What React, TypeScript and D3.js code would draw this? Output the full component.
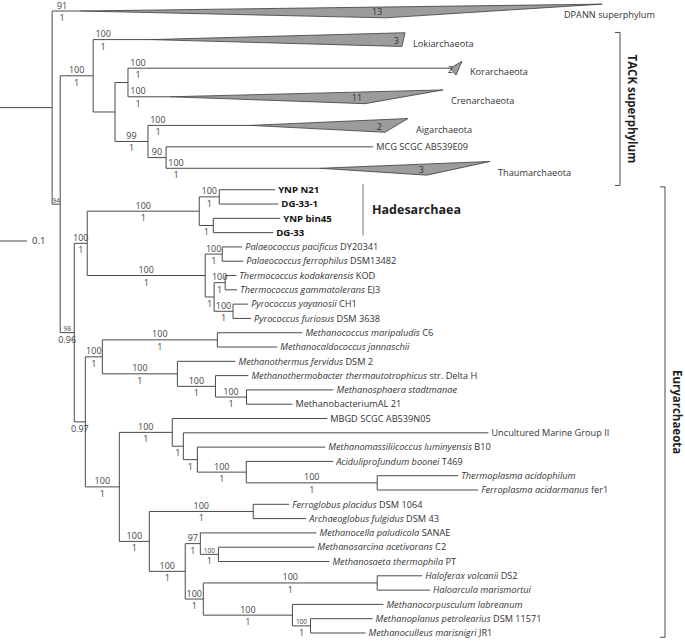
import React from 'react';
import * as d3 from 'd3';

const W = 685;
const H = 641;

// ---------------- DATA ----------------
// Tree topology: [node id, parent id, branch length (substitutions per site)]
const branches: [string, string, number][] = [
  ['r0', '', 0],
  ['root', 'r0', 0.193],
  ['dpann', 'root', 0.104],
  ['n94', 'root', 0.03],
  ['tack', 'n94', 0.122],
  ['loki', 'tack', 0.211],
  ['n115', 'tack', 0.081],
  ['n128', 'n115', 0.048],
  ['kor', 'n128', 1.193],
  ['cren', 'n128', 0.156],
  ['n148', 'n115', 0.122],
  ['aig', 'n148', 0.378],
  ['n166', 'n148', 0.067],
  ['mcg', 'n166', 0.767],
  ['thaum', 'n166', 0.57],
  ['n74', 'n94', 0.052],
  ['n87', 'n74', 0.048],
  ['hades', 'n87', 0.415],
  ['hA', 'hades', 0.074],
  ['ynpn21', 'hA', 0.207],
  ['dg331', 'hA', 0.219],
  ['hB', 'hades', 0.052],
  ['ynpbin45', 'hB', 0.248],
  ['dg33', 'hB', 0.222],
  ['thermo', 'n87', 0.437],
  ['palaeo', 'thermo', 0.063],
  ['ppac', 'palaeo', 0.074],
  ['pfer', 'palaeo', 0.078],
  ['tX', 'thermo', 0.033],
  ['tcoc', 'tX', 0.041],
  ['tkod', 'tcoc', 0.041],
  ['tgam', 'tcoc', 0.044],
  ['pyro', 'tX', 0.07],
  ['pyay', 'pyro', 0.056],
  ['pfur', 'pyro', 0.067],
  ['n85', 'n74', 0.041],
  ['nM', 'n85', 0.063],
  ['nMc', 'nM', 0.426],
  ['mmar', 'nMc', 0.315],
  ['mjan', 'nMc', 0.222],
  ['nMb', 'nM', 0.278],
  ['mfer', 'nMb', 0.215],
  ['n215', 'nMb', 0.141],
  ['mthb', 'n215', 0.122],
  ['n246', 'n215', 0.115],
  ['msta', 'n246', 0.322],
  ['mbal', 'n246', 0.17],
  ['n119', 'n85', 0.126],
  ['n172', 'n119', 0.196],
  ['mbgd', 'n172', 0.574],
  ['n183', 'n172', 0.041],
  ['umg', 'n183', 1.13],
  ['n197', 'n183', 0.052],
  ['mmas', 'n197', 0.474],
  ['n246b', 'n197', 0.181],
  ['acid', 'n246b', 0.322],
  ['n377', 'n246b', 0.485],
  ['tacid', 'n377', 0.3],
  ['facid', 'n377', 0.374],
  ['n149', 'n119', 0.111],
  ['n253', 'n149', 0.385],
  ['fpla', 'n253', 0.133],
  ['aful', 'n253', 0.196],
  ['n185', 'n149', 0.133],
  ['n200', 'n185', 0.056],
  ['mpal', 'n200', 0.43],
  ['n218', 'n200', 0.067],
  ['mace', 'n218', 0.356],
  ['mthe', 'n218', 0.411],
  ['n203', 'n185', 0.067],
  ['n377b', 'n203', 0.644],
  ['hvol', 'n377b', 0.167],
  ['hmar', 'n377b', 0.196],
  ['n292', 'n203', 0.33],
  ['mlab', 'n292', 0.337],
  ['n310', 'n292', 0.067],
  ['mpet', 'n310', 0.23],
  ['mmarisn', 'n310', 0.204],
];

// Vertical order of tips (row index)
const tipRows: [string, number][] = [
  ['dpann', 0], ['loki', 2], ['kor', 4], ['cren', 6], ['aig', 8], ['mcg', 9.5], ['thaum', 11],
  ['ynpn21', 12.5], ['dg331', 13.5], ['ynpbin45', 14.5], ['dg33', 15.5],
  ['ppac', 16.5], ['pfer', 17.5], ['tkod', 18.5], ['tgam', 19.5], ['pyay', 20.5], ['pfur', 21.5],
  ['mmar', 22.5], ['mjan', 23.5], ['mfer', 24.5], ['mthb', 25.5], ['msta', 26.5], ['mbal', 27.5],
  ['mbgd', 28.5], ['umg', 29.5], ['mmas', 30.5], ['acid', 31.5], ['tacid', 32.5], ['facid', 33.5],
  ['fpla', 34.5], ['aful', 35.5], ['mpal', 36.5], ['mace', 37.5], ['mthe', 38.5],
  ['hvol', 39.5], ['hmar', 40.5], ['mlab', 41.5], ['mpet', 42.5], ['mmarisn', 43.5],
];

// Tip labels: [id, italic part, roman part]
const tipLabels: [string, string, string][] = [
  ['dpann', '', 'DPANN superphylum'],
  ['loki', '', 'Lokiarchaeota'],
  ['kor', '', 'Korarchaeota'],
  ['cren', '', 'Crenarchaeota'],
  ['aig', '', 'Aigarchaeota'],
  ['mcg', '', 'MCG SCGC AB539E09'],
  ['thaum', '', 'Thaumarchaeota'],
  ['ynpn21', '', 'YNP N21'],
  ['dg331', '', 'DG-33-1'],
  ['ynpbin45', '', 'YNP bin45'],
  ['dg33', '', 'DG-33'],
  ['ppac', 'Palaeococcus pacificus', ' DY20341'],
  ['pfer', 'Palaeococcus ferrophilus', ' DSM13482'],
  ['tkod', 'Thermococcus kodakarensis', ' KOD'],
  ['tgam', 'Thermococcus gammatolerans', ' EJ3'],
  ['pyay', 'Pyrococcus yayanosii', ' CH1'],
  ['pfur', 'Pyrococcus furiosus', ' DSM 3638'],
  ['mmar', 'Methanococcus maripaludis', ' C6'],
  ['mjan', 'Methanocaldococcus jannaschii', ''],
  ['mfer', 'Methanothermus fervidus', ' DSM 2'],
  ['mthb', 'Methanothermobacter thermautotrophicus', ' str. Delta H'],
  ['msta', 'Methanosphaera stadtmanae', ''],
  ['mbal', '', 'MethanobacteriumAL 21'],
  ['mbgd', '', 'MBGD SCGC AB539N05'],
  ['umg', '', 'Uncultured Marine Group II'],
  ['mmas', 'Methanomassiliicoccus luminyensis', ' B10'],
  ['acid', 'Aciduliprofundum boonei', ' T469'],
  ['tacid', 'Thermoplasma acidophilum', ''],
  ['facid', 'Ferroplasma acidarmanus', ' fer1'],
  ['fpla', 'Ferroglobus placidus', ' DSM 1064'],
  ['aful', 'Archaeoglobus fulgidus', ' DSM 43'],
  ['mpal', 'Methanocella paludicola', ' SANAE'],
  ['mace', 'Methanosarcina acetivorans', ' C2'],
  ['mthe', 'Methanosaeta thermophila', ' PT'],
  ['hvol', 'Haloferax volcanii', ' DS2'],
  ['hmar', 'Haloarcula marismortui', ''],
  ['mlab', 'Methanocorpusculum labreanum', ''],
  ['mpet', 'Methanoplanus petrolearius', ' DSM 11571'],
  ['mmarisn', 'Methanoculleus marisnigri', ' JR1'],
];

// Collapsed clades: [id, genomes, shortest tip, longest tip] (distance from clade node)
const collapsed: [string, number, number, number][] = [
  ['dpann', 13, 1.13, 1.933],
  ['loki', 3, 0.933, 0.944],
  ['kor', 2, 0.022, 0.044],
  ['cren', 11, 0.722, 1.011],
  ['aig', 2, 0.5, 0.585],
  ['thaum', 3, 0.396, 0.63],
];

// Branch support: [node id, bootstrap, posterior probability]
const support: [string, string, string][] = [
  ['dpann', '91', '1'], ['n94', '94', ''], ['tack', '100', '1'], ['loki', '100', '1'],
  ['kor', '100', '1'], ['cren', '100', '1'], ['n148', '99', '1'], ['aig', '100', '1'],
  ['n166', '90', ''], ['thaum', '100', '1'],
  ['n74', '98', '0.96'], ['n87', '100', '1'], ['hades', '100', '1'], ['hA', '100', '1'],
  ['hB', '', '1'], ['thermo', '100', '1'], ['palaeo', '100', '1'], ['tX', '', '1'],
  ['tcoc', '100', '1'], ['pyro', '100', '1'],
  ['n85', '', '0.97'], ['nM', '100', '1'], ['nMc', '100', '1'], ['nMb', '100', '1'],
  ['n215', '100', '1'], ['n246', '100', '1'],
  ['n119', '100', '1'], ['n172', '100', '1'], ['n183', '', '1'], ['n197', '', '1'],
  ['n246b', '100', '1'], ['n377', '100', '1'],
  ['n149', '100', '1'], ['n253', '100', '1'], ['n185', '100', '1'], ['n200', '97', '1'],
  ['n218', '100', '1'], ['n203', '100', '1'], ['n377b', '100', '1'], ['n292', '100', '1'],
  ['n310', '100', '1'],
];

const smallSupport = ['n94', 'n74', 'n218', 'n310'];
const boldTips = ['ynpn21', 'dg331', 'ynpbin45', 'dg33'];

// Group brackets: [label, first row, last row]
const groups: [string, number, number][] = [
  ['TACK superphylum', 1.5, 12.2],
  ['Euryarchaeota', 12.3, 43.8],
];
const hadesGroup: [string, number, number] = ['Hadesarchaea', 12.1, 15.7];
const scaleBarValue = 0.1;

// ---------------- LAYOUT ----------------
const FONT = "'Open Sans', 'Noto Sans', sans-serif";
const LINE = '#4a4a4a';
const TEXT = '#333';
const x = d3.scaleLinear().domain([0, 1]).range([0, 270]);
const y = d3.scaleLinear().domain([0, 43.5]).range([11, 633]);
const TACK_X = 620;
const EURY_X = 665;
const HADES_X = 363;
const SCALE_Y = 241;

function measure(text: string, font: string): number {
  const c = document.createElement('canvas').getContext('2d');
  if (!c) return text.length * 5;
  c.font = font;
  return c.measureText(text).width;
}

export default function App() {
  type D = [string, string, number];
  const root = d3
    .stratify<D>()
    .id((d) => d[0])
    .parentId((d) => (d[1] ? d[1] : null))(branches);

  const depth = new Map<string, number>();
  root.eachBefore((n) => {
    const p = n.parent;
    depth.set(n.id!, p ? depth.get(p.id!)! + n.data[2] : 0);
  });
  const rowMap = new Map(tipRows);
  const ypos = new Map<string, number>();
  root.eachAfter((n) => {
    if (!n.children) ypos.set(n.id!, y(rowMap.get(n.id!)!));
    else {
      const c = n.children;
      ypos.set(n.id!, (ypos.get(c[0].id!)! + ypos.get(c[c.length - 1].id!)!) / 2);
    }
  });
  const X = (id: string) => x(depth.get(id)!);
  const Y = (id: string) => ypos.get(id)!;

  const colMap = new Map(collapsed.map((c) => [c[0], c]));
  const labelMap = new Map(tipLabels.map((t) => [t[0], t]));
  const halfH = (y(1) - y(0)) * 0.48;

  const lines: JSX.Element[] = [];
  root.each((n) => {
    const id = n.id!;
    if (n.parent) {
      lines.push(
        <line key={'h' + id} x1={X(n.parent.id!)} x2={X(id)} y1={Y(id)} y2={Y(id)} stroke={LINE} strokeWidth={1} />
      );
    }
    if (n.children && n.children.length > 1) {
      const c = n.children;
      lines.push(
        <line key={'v' + id} x1={X(id)} x2={X(id)} y1={Y(c[0].id!)} y2={Y(c[c.length - 1].id!)} stroke={LINE} strokeWidth={1} />
      );
    }
  });

  const tris: JSX.Element[] = [];
  const tipText: JSX.Element[] = [];
  root.leaves().forEach((n) => {
    const id = n.id!;
    const nx = X(id);
    const ny = Y(id);
    const lab = labelMap.get(id)!;
    const col = colMap.get(id);
    if (col) {
      const minX = nx + x(col[2]) - x(0);
      const maxX = nx + x(col[3]) - x(0);
      const pts = [
        [nx, ny],
        [maxX, ny - halfH],
        [minX, ny + halfH],
      ];
      tris.push(
        <g key={'t' + id}>
          <polygon points={pts.map((p) => p.join(',')).join(' ')} fill="#9c9c9c" stroke="#3c3c3c" strokeWidth={0.8} strokeLinejoin="miter" />
          <text x={minX - 3} y={ny + halfH - 2.5} textAnchor="end" fontSize={9} fill={TEXT} fontFamily={FONT}>
            {col[1]}
          </text>
        </g>
      );
      const fnt = `9.2px ${FONT}`;
      const w = measure(lab[2], fnt);
      const lx = Math.min(maxX + 8, W - 30 - w);
      tipText.push(
        <text key={'l' + id} x={lx} y={ny + 4} dy="0.35em" fontSize={9.2} fill={TEXT} fontFamily={FONT}>
          {lab[2]}
        </text>
      );
    } else {
      const bold = boldTips.includes(id);
      tipText.push(
        <text
          key={'l' + id}
          x={nx + 3}
          y={ny}
          dy="0.35em"
          fontSize={bold ? 9.6 : 9.2}
          fontWeight={bold ? 700 : 400}
          fill={bold ? '#111' : TEXT}
          fontFamily={FONT}
        >
          {lab[1] ? <tspan fontStyle="italic">{lab[1]}</tspan> : null}
          {lab[2] ? <tspan>{lab[2]}</tspan> : null}
        </text>
      );
    }
  });

  const nodeMap = new Map<string, d3.HierarchyNode<D>>();
  root.each((n) => nodeMap.set(n.id!, n));
  const supText: JSX.Element[] = [];
  support.forEach(([id, top, bot]) => {
    const n = nodeMap.get(id)!;
    const px = X(n.parent!.id!);
    const nx = X(id);
    const ly = Y(id);
    const cx = colMap.has(id) ? px + 10 : (px + nx) / 2;
    const small = smallSupport.includes(id);
    if (top)
      supText.push(
        <text key={'s' + id} x={cx} y={ly - (small ? 1.5 : 2.5)} textAnchor="middle" fontSize={small ? 6.5 : 9} fill="#444" fontFamily={FONT}>
          {top}
        </text>
      );
    if (bot)
      supText.push(
        <text key={'b' + id} x={cx} y={ly + 10} textAnchor="middle" fontSize={9} fill="#444" fontFamily={FONT}>
          {bot}
        </text>
      );
  });

  const bracketEls = groups.map(([name, r0, r1], i) => {
    const bx = i === 0 ? TACK_X : EURY_X;
    const y0 = y(r0);
    const y1 = y(r1);
    return (
      <g key={'g' + name}>
        <path d={`M${bx - 5},${y0}H${bx}V${y1}H${bx - 5}`} fill="none" stroke={LINE} strokeWidth={1} />
        <text
          transform={`translate(${bx + 12},${(y0 + y1) / 2}) rotate(90)`}
          textAnchor="middle"
          dy="0.35em"
          fontSize={11.5}
          fontWeight={700}
          fill="#222"
          fontFamily={FONT}
        >
          {name}
        </text>
      </g>
    );
  });

  const hy0 = y(hadesGroup[1]);
  const hy1 = y(hadesGroup[2]);

  return (
    <svg width={W} height={H} style={{ position: 'absolute', left: 0, top: 0, background: '#fff' }} fontFamily={FONT}>
      <rect width={W} height={H} fill="#fff" />
      {lines}
      {tris}
      {tipText}
      {supText}
      {bracketEls}
      <line x1={HADES_X} x2={HADES_X} y1={hy0} y2={hy1} stroke="#777" strokeWidth={1} />
      <text x={HADES_X + 9} y={(hy0 + hy1) / 2} dy="0.35em" fontSize={12.5} fontWeight={700} fill="#222" fontFamily={FONT}>
        {hadesGroup[0]}
      </text>
      <line x1={x(0)} x2={x(scaleBarValue)} y1={SCALE_Y} y2={SCALE_Y} stroke={LINE} strokeWidth={1} />
      <text x={x(scaleBarValue) + 5} y={SCALE_Y} dy="0.35em" fontSize={9.5} fill={TEXT} fontFamily={FONT}>
        {String(scaleBarValue)}
      </text>
    </svg>
  );
}
